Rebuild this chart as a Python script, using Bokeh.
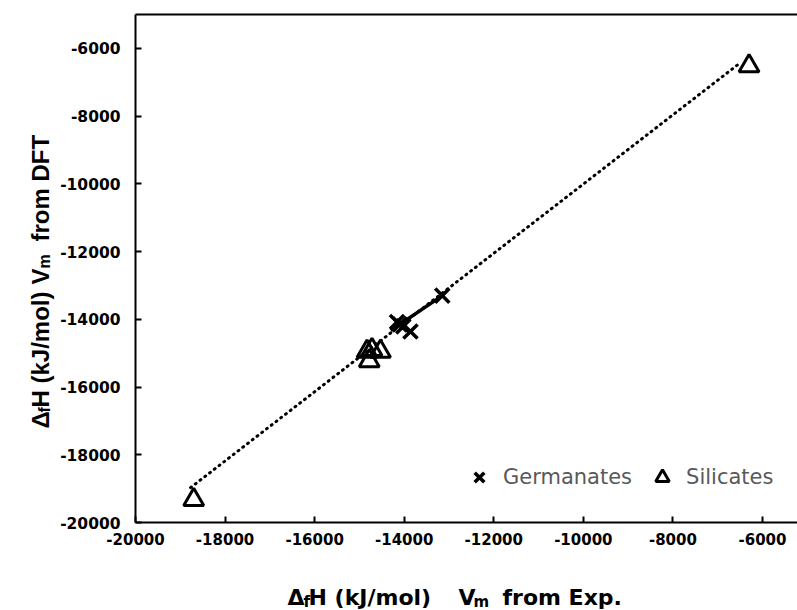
import math
from bokeh.plotting import figure
from bokeh.models import Range1d, FixedTicker, LinearAxis, Label, Legend, LegendItem
from bokeh.embed import file_html
from bokeh.resources import INLINE

# ---------------- data ----------------
germanates_exp = [-13150, -14160, -14100, -14020, -13860]
germanates_dft = [-13300, -14080, -14150, -14210, -14360]
silicates_exp = [-18700, -14830, -14720, -14530, -14780, -6300]
silicates_dft = [-19330, -14950, -14900, -14950, -15230, -6520]
trend_all_exp = [-18770, -6490]
trend_all_dft = [-18970, -6420]
trend_ge_exp = [-14300, -13150]
trend_ge_dft = [-14330, -13300]
x_ticks = [-20000, -18000, -16000, -14000, -12000, -10000, -8000, -6000]
x_tick_labels = ["-20000", "-18000", "-16000", "-14000", "-12000", "-10000", "-8000", "-6000"]
y_ticks = [-20000, -18000, -16000, -14000, -12000, -10000, -8000, -6000]
y_tick_labels = ["-20000", "-18000", "-16000", "-14000", "-12000", "-10000", "-8000", "-6000"]
legend_labels = ["Germanates", "Silicates"]

# axis extents of the plot area (data) and where they sit on the canvas (px)
X0, X1 = -20000, -5218
Y0, Y1 = -20000, -5000
W, H = 797, 610
PL, PR, PT, PB = 135, 797, 14, 522

sx = (X1 - X0) / (PR - PL)
sy = (Y1 - Y0) / (PB - PT)

def cx(px):
    return X0 + (px - PL) * sx

def cy(py):
    return Y0 + (PB - py) * sy

p = figure(width=W, height=H,
           x_range=Range1d(cx(0), cx(W)), y_range=Range1d(cy(H), cy(0)),
           output_backend="svg", toolbar_location=None,
           min_border=0, min_border_left=0, min_border_right=0,
           min_border_top=0, min_border_bottom=0)
p.xgrid.visible = False
p.ygrid.visible = False
p.outline_line_color = None
p.background_fill_color = "white"
p.border_fill_color = "white"

def style_axis(ax, ticks, labels, so, fs):
    ax.ticker = FixedTicker(ticks=ticks)
    ax.major_label_overrides = {t: l for t, l in zip(ticks, labels)}
    ax.major_tick_in = 6
    ax.major_tick_out = 0
    ax.minor_tick_in = 0
    ax.minor_tick_out = 0
    ax.axis_line_width = 2
    ax.axis_line_color = "black"
    ax.major_tick_line_width = 2
    ax.major_tick_line_color = "black"
    ax.major_label_text_font = "DejaVu Sans"
    ax.major_label_text_font_style = "bold"
    ax.major_label_text_font_size = fs
    ax.major_label_text_color = "black"
    ax.major_label_standoff = so

xa = p.xaxis[0]
ya = p.yaxis[0]
style_axis(xa, x_ticks, x_tick_labels, 10, "15px")
style_axis(ya, y_ticks, y_tick_labels, 15, "15.5px")
xa.fixed_location = Y0
xa.bounds = (X0, X1)
ya.fixed_location = X0
ya.bounds = (Y0, Y1)

top = LinearAxis(ticker=FixedTicker(ticks=[]), major_label_text_font_size="0px",
                 major_tick_in=0, major_tick_out=0, minor_tick_in=0, minor_tick_out=0,
                 axis_line_width=2, axis_line_color="black", major_label_standoff=0,
                 fixed_location=Y1, bounds=(X0, X1))
p.add_layout(top, "above")

p.line(trend_all_exp, trend_all_dft, line_color="black", line_width=3,
       line_dash="1 5", line_cap="round")
p.line(trend_ge_exp, trend_ge_dft, line_color="black", line_width=3.5)
ge = p.scatter(germanates_exp, germanates_dft, marker="x", size=20,
               line_color="black", line_width=3.5)
si = p.scatter(silicates_exp, silicates_dft, marker="triangle", size=20,
               fill_color=None, line_color="black", line_width=3)

legend = Legend(items=[LegendItem(label=legend_labels[0], renderers=[ge]),
                       LegendItem(label=legend_labels[1], renderers=[si])],
                orientation="horizontal", location=(462, H - 494),
                glyph_width=34, glyph_height=34, label_height=34,
                label_standoff=7, spacing=13, padding=0, margin=0,
                border_line_color=None, background_fill_alpha=0,
                label_text_font="DejaVu Sans", label_text_font_size="21px",
                label_text_color="#595959")
p.add_layout(legend, "center")

# ---------------- axis titles ----------------
def piece(text, px, py, size, font, angle=0.0):
    p.add_layout(Label(x=cx(px), y=cy(py), text=text, x_units="data", y_units="data",
                       angle=angle, text_font=font, text_font_style="bold",
                       text_font_size=size, text_color="black",
                       text_align="left", text_baseline="alphabetic"))

XF = "DejaVu Sans"
piece("\u0394", 287, 597, "22px", XF)
piece("f", 303, 601, "15px", XF)
piece("H (kJ/mol)", 308, 597, "22px", XF)
piece("V", 458, 597, "22px", XF)
piece("m", 473, 601, "15px", XF)
piece("from Exp.", 502, 597, "22px", XF)

YF = "Liberation Sans"
a = math.pi / 2
piece("\u0394", 40, 428, "24px", YF, a)
piece("f", 44, 412, "16px", YF, a)
piece("H (kJ/mol)", 40, 407, "24px", YF, a)
piece("V", 40, 284, "24px", YF, a)
piece("m", 44, 268, "16px", YF, a)
piece("from DFT", 40, 241, "24px", YF, a)

open("out.html", "w").write(file_html(p, INLINE))
